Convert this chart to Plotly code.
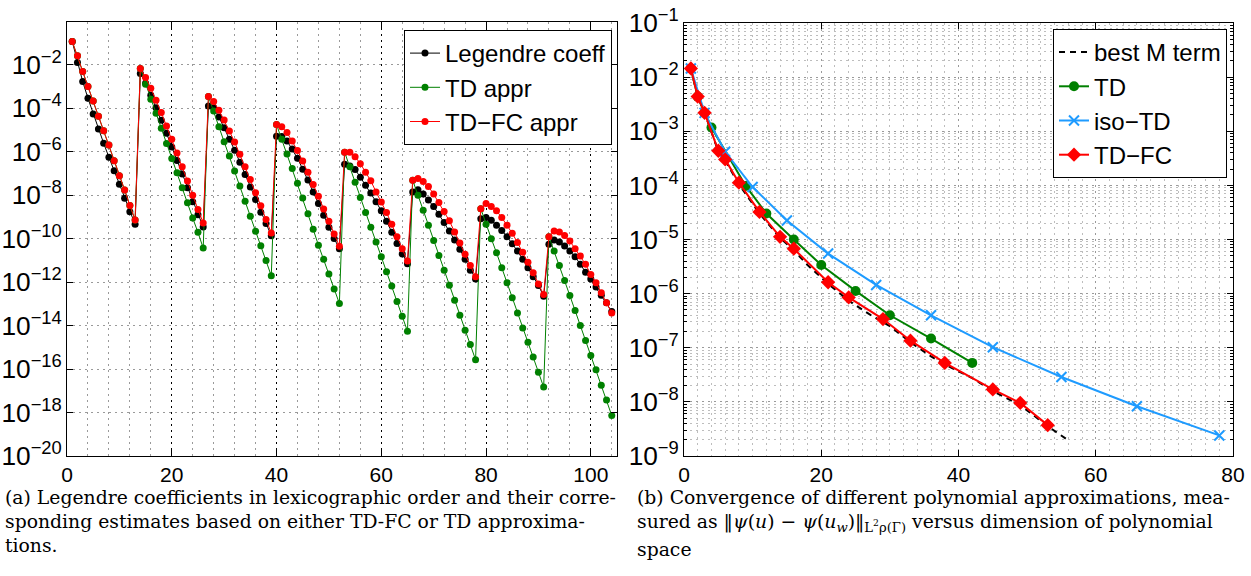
import plotly.graph_objects as go

# ---------------- Left panel data (log10 of values) ----------------
coef_index = list(range(1, 105))

legendre_log10 = [
    -0.93, -1.89, -2.77, -3.54, -4.26, -4.95, -5.61, -6.25, -6.88, -7.50, -8.14, -8.76, -9.34,
    -2.40, -2.85, -3.40, -3.97, -4.55, -5.15, -5.78, -6.40, -7.02, -7.66, -8.30, -8.90, -9.46,
    -3.89, -3.98, -4.40, -4.90, -5.42, -5.93, -6.48, -7.05, -7.62, -8.20, -8.78, -9.30, -9.86,
    -5.29, -5.30, -5.50, -5.87, -6.30, -6.80, -7.30, -7.85, -8.38, -8.92, -9.47, -9.99, -10.46,
    -6.58, -6.66, -6.82, -7.17, -7.54, -7.90, -8.30, -8.72, -9.20, -9.70, -10.22, -10.70, -11.15,
    -7.85, -7.75, -7.95, -8.22, -8.52, -8.88, -9.26, -9.65, -10.06, -10.49, -10.95, -11.45, -11.85,
    -9.08, -9.03, -9.15, -9.38, -9.62, -9.91, -10.23, -10.57, -10.95, -11.34, -11.75, -12.15, -12.65,
    -10.26, -10.06, -10.15, -10.34, -10.57, -10.83, -11.18, -11.54, -11.85, -12.22, -12.60, -12.95, -13.35,
]

td_appr_log10 = [
    -0.93, -1.585, -2.31, -3.00, -3.67, -4.37, -5.03, -5.69, -6.41, -7.10, -7.76, -8.47, -9.14,
    -2.17, -2.89, -3.58, -4.23, -4.92, -5.62, -6.31, -6.97, -7.66, -8.35, -9.05, -9.71, -10.43,
    -3.46, -4.12, -4.85, -5.54, -6.20, -6.89, -7.58, -8.28, -8.97, -9.66, -10.32, -11.00, -11.71,
    -4.75, -5.43, -6.10, -6.77, -7.45, -8.13, -8.85, -9.57, -10.30, -10.95, -11.62, -12.32, -12.98,
    -6.02, -6.69, -7.40, -8.10, -8.80, -9.47, -10.15, -10.83, -11.52, -12.18, -12.89, -13.57, -14.26,
    -7.31, -8.00, -8.69, -9.38, -10.08, -10.77, -11.45, -12.14, -12.83, -13.52, -14.21, -14.87, -15.57,
    -8.62, -9.34, -10.00, -10.65, -11.34, -12.03, -12.72, -13.42, -14.11, -14.77, -15.45, -16.15, -16.83,
    -9.91, -10.57, -11.23, -11.92, -12.62, -13.31, -14.00, -14.68, -15.37, -16.03, -16.74, -17.42, -18.14,
]

tdfc_appr_log10 = [
    -0.93, -1.585, -2.31, -3.00, -3.67, -4.37, -5.03, -5.69, -6.41, -7.10, -7.76, -8.47, -9.14,
    -2.17, -2.58, -3.08, -3.63, -4.20, -4.82, -5.43, -6.06, -6.69, -7.35, -8.00, -8.66, -9.28,
    -3.46, -3.69, -4.09, -4.54, -5.05, -5.55, -6.12, -6.69, -7.28, -7.89, -8.48, -9.12, -9.74,
    -4.75, -4.85, -5.12, -5.50, -5.94, -6.43, -6.94, -7.51, -8.05, -8.63, -9.20, -9.78, -10.35,
    -6.02, -6.02, -6.23, -6.55, -6.94, -7.34, -7.85, -8.31, -8.80, -9.34, -9.91, -10.46, -11.03,
    -7.31, -7.23, -7.37, -7.60, -7.95, -8.34, -8.75, -9.18, -9.69, -10.20, -10.72, -11.23, -11.75,
    -8.62, -8.38, -8.52, -8.72, -9.03, -9.38, -9.75, -10.18, -10.62, -11.08, -11.57, -12.08, -12.57,
    -9.91, -9.65, -9.69, -9.85, -10.11, -10.46, -10.80, -11.18, -11.65, -12.03, -12.49, -12.95, -13.42,
]

# ---------------- Right panel data (log10 of errors) ----------------
best_m_dim = [1, 2, 3, 4, 5, 6, 8, 11, 14, 16, 18, 21, 24, 27, 30, 33, 36, 38, 42, 45, 49, 53, 56]
best_m_log10 = [-1.84, -2.36, -2.66, -3.02, -3.37, -3.54, -3.98, -4.52, -4.97, -5.20, -5.47, -5.82,
                -6.13, -6.38, -6.60, -6.90, -7.16, -7.31, -7.56, -7.80, -8.06, -8.45, -8.71]

td_dim = [1, 2, 3, 4, 9, 12, 16, 20, 25, 30, 36, 42]
td_log10 = [-1.84, -2.36, -2.66, -2.93, -4.01, -4.52, -5.00, -5.47, -5.95, -6.40, -6.83, -7.28]

iso_dim = [1, 3, 6, 10, 15, 21, 28, 36, 45, 55, 66, 78]
iso_log10 = [-1.84, -2.66, -3.38, -4.03, -4.65, -5.26, -5.84, -6.40, -6.99, -7.54, -8.08, -8.62]

tdfc_dim = [1, 2, 3, 5, 6, 8, 11, 14, 16, 21, 24, 29, 33, 38, 45, 49, 53]
tdfc_log10 = [-1.84, -2.36, -2.66, -3.36, -3.52, -3.95, -4.49, -4.95, -5.17, -5.79, -6.07, -6.47,
              -6.87, -7.28, -7.77, -8.02, -8.43]

caption_a = ["(a) Legendre coefficients in lexicographic order and their corre-",
             "sponding estimates based on either TD-FC or TD approxima-",
             "tions."]
caption_b = ["(b) Convergence of different polynomial approximations, mea-",
             "sured as ‖<i>ψ</i>(<i>u</i>) − <i>ψ</i>(<i>u<sub>w</sub></i>)‖<sub>L<sup>2</sup>ρ(Γ)</sub> versus dimension of polynomial",
             "space"]

def pw(arr):
    return [10 ** v for v in arr]

GREEN = "#008000"
RED = "#FF0000"
BLUE = "#1E9BFF"
SANS = "Liberation Sans, Arial, sans-serif"

fig = go.Figure()

# left panel
fig.add_trace(go.Scatter(x=coef_index, y=pw(legendre_log10), name="Legendre coeff", mode="lines+markers",
                         line=dict(color="black", width=1), marker=dict(color="black", size=7),
                         xaxis="x", yaxis="y", legend="legend"))
fig.add_trace(go.Scatter(x=coef_index, y=pw(td_appr_log10), name="TD appr", mode="lines+markers",
                         line=dict(color=GREEN, width=1), marker=dict(color=GREEN, size=7),
                         xaxis="x", yaxis="y", legend="legend"))
fig.add_trace(go.Scatter(x=coef_index, y=pw(tdfc_appr_log10), name="TD−FC appr", mode="lines+markers",
                         line=dict(color=RED, width=1), marker=dict(color=RED, size=7),
                         xaxis="x", yaxis="y", legend="legend"))

# right panel
fig.add_trace(go.Scatter(x=best_m_dim, y=pw(best_m_log10), name="best M term", mode="lines",
                         line=dict(color="black", width=2, dash="6px,5px"),
                         xaxis="x2", yaxis="y2", legend="legend2"))
fig.add_trace(go.Scatter(x=td_dim, y=pw(td_log10), name="TD", mode="lines+markers",
                         line=dict(color=GREEN, width=2), marker=dict(color=GREEN, size=10, symbol="circle"),
                         xaxis="x2", yaxis="y2", legend="legend2"))
fig.add_trace(go.Scatter(x=iso_dim, y=pw(iso_log10), name="iso−TD", mode="lines+markers",
                         line=dict(color=BLUE, width=2),
                         marker=dict(color=BLUE, size=10, symbol="x-thin", line=dict(color=BLUE, width=2)),
                         xaxis="x2", yaxis="y2", legend="legend2"))
fig.add_trace(go.Scatter(x=tdfc_dim, y=pw(tdfc_log10), name="TD−FC", mode="lines+markers",
                         line=dict(color=RED, width=2), marker=dict(color=RED, size=11, symbol="diamond"),
                         xaxis="x2", yaxis="y2", legend="legend2"))

W, H = 1251, 576
tickfont = dict(family=SANS, size=21, color="black")

common_axis = dict(showline=True, linecolor="black", linewidth=1, mirror="allticks",
                   ticks="inside", ticklen=6, tickcolor="black", tickfont=tickfont,
                   zeroline=False, griddash="2px,4px", gridwidth=1, automargin=False)

fig.update_layout(
    width=W, height=H, autosize=False,
    margin=dict(l=0, r=0, t=0, b=0, autoexpand=False),
    paper_bgcolor="white", plot_bgcolor="white",
    font=dict(family=SANS, color="black"),
    xaxis=dict(common_axis, domain=[67 / W, 617 / W], range=[0, 105], dtick=20, tick0=0,
               anchor="y", gridcolor="#000000",
               minor=dict(dtick=4, tick0=0, showgrid=True, gridcolor="#9a9a9a",
                          griddash="2px,4px", ticks="")),
    yaxis=dict(common_axis, domain=[1 - 456 / H, 1 - 22 / H], type="log", range=[-20, -0.03],
               dtick=2, tick0=0, exponentformat="power", anchor="x", gridcolor="#9a9a9a"),
    xaxis2=dict(common_axis, domain=[684 / W, 1233 / W], range=[0, 80], dtick=20, tick0=0,
                anchor="y2", gridcolor="#9a9a9a",
                minor=dict(dtick=2, tick0=0, showgrid=True, gridcolor="#bdbdbd",
                           griddash="2px,4px", ticks="")),
    yaxis2=dict(common_axis, domain=[1 - 456 / H, 1 - 23 / H], type="log", range=[-9, -1],
                dtick=1, exponentformat="power", anchor="x2", gridcolor="#9a9a9a",
                minor=dict(dtick="D1", showgrid=True, gridcolor="#bdbdbd", griddash="2px,4px",
                           ticks="inside", ticklen=3, tickcolor="black")),
    legend=dict(x=612 / W, y=1 - 30 / H, xanchor="right", yanchor="top",
                bgcolor="white", bordercolor="black", borderwidth=1,
                font=dict(family=SANS, size=24, color="black"), tracegroupgap=0),
    legend2=dict(x=1227 / W, y=1 - 29 / H, xanchor="right", yanchor="top",
                 bgcolor="white", bordercolor="black", borderwidth=1,
                 font=dict(family=SANS, size=24, color="black"), tracegroupgap=0),
    showlegend=True,
)

SERIF = "DejaVu Serif, serif"
cap_y = [497, 521, 545]
for i, line in enumerate(caption_a):
    fig.add_annotation(x=3 / W, y=1 - cap_y[i] / H, xref="paper", yref="paper", text=line,
                       showarrow=False, xanchor="left", yanchor="middle",
                       font=dict(family=SERIF, size=18.8, color="black"))
cap_y_b = [497, 523, 549]
for i, line in enumerate(caption_b):
    fig.add_annotation(x=635 / W, y=1 - cap_y_b[i] / H, xref="paper", yref="paper", text=line,
                       showarrow=False, xanchor="left", yanchor="middle",
                       font=dict(family=SERIF, size=18.8, color="black"))

fig.write_html("out.html", config={"displayModeBar": False},
               post_script="document.body.style.margin='0px';document.body.style.overflow='hidden';")
